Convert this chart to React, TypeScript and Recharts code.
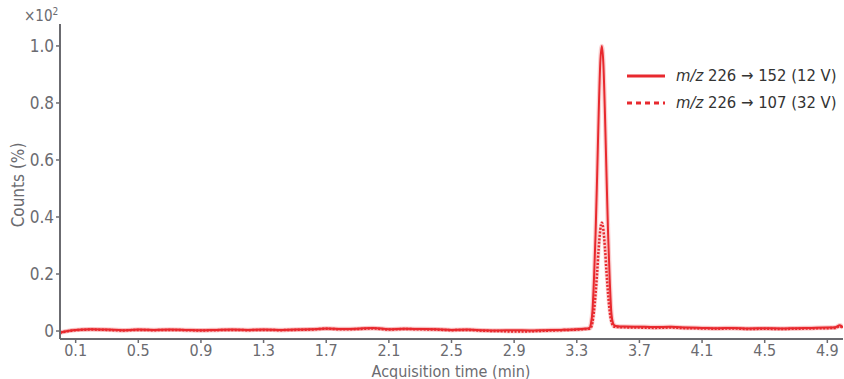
import { LineChart, Line, XAxis, YAxis } from "recharts";

// retention time (min) and relative counts (x10^2 %)
const times = [
  0, 0.1, 0.2, 0.3, 0.4, 0.5, 0.6, 0.7, 0.8, 0.9, 1.0, 1.1, 1.2, 1.3, 1.4, 1.5, 1.6, 1.7, 1.8, 1.9,
  2.0, 2.1, 2.2, 2.3, 2.4, 2.5, 2.6, 2.7, 2.8, 2.9, 3.0, 3.1, 3.2, 3.3, 3.35,
  3.38, 3.39, 3.4, 3.41, 3.42, 3.43, 3.44, 3.45, 3.46, 3.47, 3.48, 3.49, 3.5, 3.51, 3.52, 3.53, 3.54, 3.56,
  3.6, 3.7, 3.8, 3.9, 4.0, 4.1, 4.2, 4.3, 4.4, 4.5, 4.6, 4.7, 4.8, 4.9, 4.95, 4.98, 5.0,
];
const trace152 = [
  -0.005, 0.004, 0.006, 0.005, 0.003, 0.005, 0.004, 0.005, 0.004, 0.003, 0.004, 0.005, 0.004, 0.005, 0.004, 0.005, 0.006, 0.009, 0.007, 0.008,
  0.011, 0.006, 0.008, 0.007, 0.006, 0.004, 0.005, 0.003, 0.002, 0.003, 0.002, 0.003, 0.004, 0.006, 0.008,
  0.01, 0.025, 0.07, 0.185, 0.34, 0.545, 0.765, 0.94, 1.0, 0.935, 0.76, 0.545, 0.34, 0.185, 0.07, 0.03, 0.02, 0.017,
  0.016, 0.015, 0.014, 0.015, 0.012, 0.011, 0.01, 0.011, 0.009, 0.01, 0.009, 0.01, 0.011, 0.012, 0.013, 0.02, 0.012,
];
const trace107 = [
  -0.006, 0.003, 0.005, 0.004, 0.002, 0.004, 0.003, 0.004, 0.003, 0.002, 0.003, 0.004, 0.003, 0.004, 0.003, 0.004, 0.005, 0.008, 0.006, 0.007,
  0.009, 0.005, 0.007, 0.006, 0.005, 0.003, 0.004, 0.001, 0.0, -0.002, -0.001, 0.001, 0.003, 0.005, 0.007,
  0.008, 0.012, 0.03, 0.07, 0.13, 0.205, 0.29, 0.355, 0.38, 0.355, 0.29, 0.205, 0.13, 0.07, 0.035, 0.02, 0.015, 0.014,
  0.013, 0.012, 0.011, 0.012, 0.01, 0.009, 0.008, 0.009, 0.007, 0.008, 0.007, 0.008, 0.009, 0.01, 0.011, 0.017, 0.01,
];
const xTicks = [0.1, 0.5, 0.9, 1.3, 1.7, 2.1, 2.5, 2.9, 3.3, 3.7, 4.1, 4.5, 4.9];
const yTicks = [0, 0.2, 0.4, 0.6, 0.8, 1.0];

const data = times.map((t, i) => ({ t, a: trace152[i], b: trace107[i] }));

const RED = "#e8292e";
const AXIS = "#6b6b70";
const FONT = "'Liberation Sans Narrow', 'DejaVu Sans Condensed', Roboto, sans-serif";

export default function App() {
  return (
    <div style={{ position: "absolute", left: 0, top: 0, width: 844, height: 379, fontFamily: FONT, background: "#fff" }}>
      <LineChart width={844} height={379} data={data} margin={{ top: 24, right: 1, bottom: 0, left: 0 }}>
        <XAxis
          dataKey="t"
          type="number"
          domain={[0, 5]}
          ticks={xTicks}
          tickFormatter={(v) => v.toFixed(1)}
          height={40}
          axisLine={{ stroke: AXIS, strokeWidth: 2 }}
          tickLine={{ stroke: AXIS, strokeWidth: 1.5 }}
          tickSize={4}
          tickMargin={2}
          tick={{ fill: AXIS, fontSize: 16, fontFamily: FONT }}
          allowDataOverflow
        />
        <YAxis
          type="number"
          domain={[-0.028, 1.077]}
          ticks={yTicks}
          tickFormatter={(v) => (v === 0 ? "0" : v.toFixed(1))}
          width={60}
          axisLine={{ stroke: AXIS, strokeWidth: 2 }}
          tickLine={{ stroke: AXIS, strokeWidth: 1.5 }}
          tickSize={4}
          tick={{ fill: AXIS, fontSize: 17, fontFamily: FONT }}
          allowDataOverflow
        />
        <Line type="monotone" dataKey="a" stroke={RED} strokeOpacity={0.22} strokeWidth={4.5} dot={false} isAnimationActive={false} />
        <Line type="monotone" dataKey="b" stroke={RED} strokeOpacity={0.18} strokeWidth={4} dot={false} isAnimationActive={false} />
        <Line type="monotone" dataKey="b" stroke={RED} strokeWidth={2.5} strokeDasharray="2 1.5" dot={false} isAnimationActive={false} />
        <Line type="monotone" dataKey="a" stroke={RED} strokeWidth={2} dot={false} isAnimationActive={false} />
      </LineChart>

      <div style={{ position: "absolute", left: 24, top: 6, fontSize: 15, color: AXIS }}>
        ×10<sup style={{ fontSize: 10 }}>2</sup>
      </div>
      <div
        style={{
          position: "absolute",
          left: 18,
          top: 185,
          fontSize: 17,
          color: AXIS,
          whiteSpace: "nowrap",
          transform: "translate(-50%, -50%) rotate(-90deg)",
        }}
      >
        Counts (%)
      </div>
      <div
        style={{
          position: "absolute",
          left: 451,
          top: 371,
          fontSize: 16,
          lineHeight: "15px",
          color: AXIS,
          whiteSpace: "nowrap",
          transform: "translate(-50%, -50%)",
        }}
      >
        Acquisition time (min)
      </div>

      <div style={{ position: "absolute", left: 627, top: 62, fontSize: 16.5, color: "#333", lineHeight: "27px" }}>
        {[
          { dash: false, label: "226 → 152 (12 V)" },
          { dash: true, label: "226 → 107 (32 V)" },
        ].map((r) => (
          <div key={r.label} style={{ display: "flex", alignItems: "center", whiteSpace: "nowrap" }}>
            <svg width={38} height={6} style={{ marginRight: 11 }}>
              <line x1={0} y1={3} x2={38} y2={3} stroke={RED} strokeWidth={3} strokeDasharray={r.dash ? "5 4" : undefined} />
            </svg>
            <span>
              <i>m/z</i> {r.label}
            </span>
          </div>
        ))}
      </div>
    </div>
  );
}
